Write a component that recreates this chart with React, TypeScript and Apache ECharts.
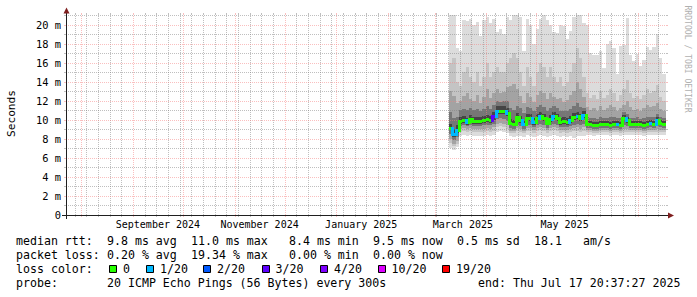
import React, { useEffect, useRef } from "react";
import * as echarts from "echarts";

// ---------------- data ----------------
const END_TIME = "2025-07-17T20:37:27Z";
const SPAN_DAYS = 360;
const SAMPLE_START = "2025-03-09T16:00:00Z";
const SAMPLE_STEP_DAYS = 2;
const Y_MAX = 21;

// median rtt (ms), one value per 2-day sample
const medianRtt = [
  9.1, 8.5, 8.9, 9.8, 9.9, 9.7, 10.0, 9.8, 9.8, 9.8,
  9.9, 10.0, 9.9, 10.3, 10.9, 10.9, 10.9, 10.7, 9.6, 9.5,
  10.2, 9.9, 9.5, 10.1, 10.1, 9.7, 10.1, 10.3, 10.1, 9.6,
  10.0, 10.3, 10.1, 9.7, 9.8, 9.7, 9.9, 10.2, 10.3, 10.1,
  10.4, 9.5, 9.5, 9.4, 9.4, 9.5, 9.5, 9.5, 9.4, 9.5,
  9.5, 9.4, 10.1, 9.9, 9.5, 9.5, 9.5, 9.5, 9.4, 9.5,
  9.6, 9.5, 9.9, 9.6, 9.5, 9.5,
];

// index into lossLabels / lossColors
const lossIndex = [
  0, 1, 1, 0, 0, 1, 0, 0, 0, 0,
  0, 0, 0, 3, 1, 0, 0, 1, 0, 0,
  0, 0, 1, 0, 0, 1, 0, 1, 0, 0,
  0, 1, 0, 0, 0, 0, 1, 0, 1, 0,
  1, 0, 0, 0, 0, 0, 0, 0, 0, 0,
  1, 0, 0, 1, 0, 0, 0, 0, 0, 0,
  1, 0, 1, 0, 0, 0,
];

// smoke bands, outermost (1) to innermost (5): low / high values in ms
const smokeHigh1 = [
  21, 21, 17.5, 17.2, 20.5, 20.4, 20.6, 20.0, 20.3, 18.8,
  20.5, 20.8, 20.2, 20.6, 19.2, 19.5, 19.0, 20.8, 20.5, 21,
  21, 20.8, 17.2, 20.6, 20.0, 18.0, 19.5, 20.6, 21, 20.5,
  20.0, 19.2, 19.1, 20.0, 19.8, 18.5, 19.3, 20.8, 21, 21,
  20.2, 20.0, 17.0, 16.8, 16.8, 17.2, 15.4, 18.0, 18.3, 17.5,
  14.8, 17.7, 17.8, 20.7, 16.8, 16.2, 16.9, 15.6, 16.3, 17.6,
  17.3, 17.6, 19.0, 16.5, 14.8, 14.6,
];
const smokeHigh2 = [
  16.0, 16.5, 14.0, 13.5, 15.0, 15.5, 14.5, 14.0, 15.0, 13.5,
  14.5, 16.0, 14.5, 15.0, 15.5, 15.0, 15.0, 16.0, 16.5, 17.0,
  16.5, 15.0, 13.5, 15.5, 14.5, 13.5, 15.0, 16.0, 15.5, 14.5,
  15.5, 14.5, 14.0, 14.5, 13.5, 14.0, 15.0, 16.0, 17.5, 16.5,
  14.5, 12.8, 12.3, 12.6, 12.2, 13.0, 12.3, 12.6, 13.2, 12.8,
  12.0, 12.6, 13.2, 14.2, 12.8, 12.3, 12.5, 12.2, 12.6, 13.2,
  12.8, 13.0, 13.6, 12.4, 12.0, 11.8,
];
const smokeHigh3 = [
  13.0, 12.5, 11.8, 12.0, 12.5, 12.8, 12.2, 12.0, 12.6, 11.8,
  12.4, 13.2, 12.3, 12.8, 13.2, 12.8, 12.9, 13.4, 13.5, 13.8,
  13.2, 12.5, 11.8, 12.8, 12.4, 11.9, 12.6, 13.0, 12.8, 12.2,
  12.8, 12.4, 12.2, 12.3, 11.9, 12.1, 12.6, 13.0, 14.0, 13.2,
  12.4, 11.3, 11.0, 11.2, 10.9, 11.4, 11.0, 11.2, 11.5, 11.3,
  10.9, 11.2, 11.6, 12.0, 11.3, 11.0, 11.1, 10.9, 11.2, 11.5,
  11.3, 11.4, 11.8, 11.1, 10.9, 10.8,
];
const smokeHigh4 = [
  10.8, 10.2, 10.3, 11.0, 11.1, 11.0, 11.2, 11.0, 11.1, 10.9,
  11.1, 11.4, 11.1, 11.6, 12.0, 11.9, 12.0, 12.0, 11.2, 11.0,
  11.4, 11.2, 10.7, 11.3, 11.2, 10.9, 11.3, 11.5, 11.3, 10.9,
  11.2, 11.4, 11.2, 10.9, 10.9, 10.9, 11.1, 11.4, 11.8, 11.3,
  11.2, 10.3, 10.2, 10.2, 10.1, 10.3, 10.2, 10.2, 10.3, 10.3,
  10.2, 10.2, 10.8, 10.6, 10.2, 10.2, 10.3, 10.1, 10.2, 10.3,
  10.3, 10.3, 10.6, 10.3, 10.2, 10.1,
];
const smokeHigh5 = [
  9.6, 9.0, 9.4, 10.3, 10.4, 10.2, 10.5, 10.3, 10.3, 10.3,
  10.4, 10.5, 10.4, 10.8, 11.4, 11.4, 11.4, 11.2, 10.1, 10.0,
  10.7, 10.4, 10.0, 10.6, 10.6, 10.2, 10.6, 10.8, 10.6, 10.1,
  10.5, 10.8, 10.6, 10.2, 10.3, 10.2, 10.4, 10.7, 10.8, 10.6,
  10.9, 9.9, 9.9, 9.8, 9.8, 9.9, 9.9, 9.9, 9.8, 9.9,
  9.9, 9.8, 10.5, 10.3, 9.9, 9.9, 9.9, 9.9, 9.8, 9.9,
  10.0, 9.9, 10.3, 10.0, 9.9, 9.9,
];
const smokeLow5 = [
  8.9, 8.2, 8.6, 9.6, 9.7, 9.5, 9.8, 9.6, 9.6, 9.6,
  9.7, 9.8, 9.7, 10.0, 10.6, 10.6, 10.6, 10.4, 9.4, 9.3,
  10.0, 9.7, 9.3, 9.9, 9.9, 9.5, 9.9, 10.1, 9.9, 9.4,
  9.8, 10.1, 9.9, 9.5, 9.6, 9.5, 9.7, 10.0, 10.1, 9.9,
  10.2, 9.3, 9.3, 9.2, 9.2, 9.3, 9.3, 9.3, 9.2, 9.3,
  9.3, 9.2, 9.9, 9.7, 9.3, 9.3, 9.3, 9.3, 9.2, 9.3,
  9.4, 9.3, 9.7, 9.4, 9.3, 9.3,
];
const smokeLow4 = [
  8.5, 7.9, 8.2, 9.3, 9.4, 9.3, 9.4, 9.3, 9.3, 9.3,
  9.4, 9.4, 9.4, 9.6, 10.1, 10.2, 10.1, 9.9, 9.1, 9.0,
  9.5, 9.3, 9.0, 9.4, 9.4, 9.2, 9.4, 9.6, 9.4, 9.1,
  9.4, 9.6, 9.4, 9.2, 9.2, 9.2, 9.3, 9.5, 9.6, 9.4,
  9.6, 9.1, 9.1, 9.0, 9.0, 9.1, 9.1, 9.1, 9.0, 9.1,
  9.1, 9.0, 9.4, 9.3, 9.1, 9.1, 9.1, 9.1, 9.0, 9.1,
  9.2, 9.1, 9.3, 9.2, 9.1, 9.1,
];
const smokeLow3 = [
  8.0, 7.5, 7.8, 9.0, 9.1, 9.0, 9.1, 9.0, 9.0, 9.0,
  9.0, 9.1, 9.0, 9.2, 9.6, 9.7, 9.6, 9.4, 8.8, 8.8,
  9.1, 9.0, 8.8, 9.1, 9.1, 8.9, 9.1, 9.2, 9.1, 8.9,
  9.1, 9.2, 9.1, 8.9, 8.9, 8.9, 9.0, 9.1, 9.2, 9.0,
  9.2, 8.9, 8.9, 8.8, 8.8, 8.9, 8.9, 8.9, 8.8, 8.9,
  8.9, 8.8, 9.0, 9.0, 8.9, 8.9, 8.9, 8.9, 8.8, 8.9,
  8.9, 8.9, 9.0, 8.9, 8.9, 8.9,
];
const smokeLow2 = [
  7.6, 7.2, 7.5, 8.7, 8.8, 8.7, 8.8, 8.7, 8.7, 8.7,
  8.7, 8.8, 8.7, 8.8, 9.2, 9.3, 9.2, 9.0, 8.6, 8.6,
  8.8, 8.7, 8.6, 8.8, 8.8, 8.6, 8.8, 8.9, 8.8, 8.6,
  8.8, 8.9, 8.8, 8.6, 8.7, 8.6, 8.7, 8.8, 8.8, 8.7,
  8.8, 8.7, 8.7, 8.6, 8.6, 8.7, 8.7, 8.7, 8.6, 8.7,
  8.7, 8.6, 8.7, 8.7, 8.7, 8.7, 8.7, 8.7, 8.6, 8.7,
  8.7, 8.7, 8.7, 8.7, 8.7, 8.7,
];
const smokeLow1 = [
  7.0, 6.8, 7.1, 8.3, 8.4, 8.3, 8.4, 8.3, 8.3, 8.3,
  8.3, 8.4, 8.3, 8.4, 8.7, 8.8, 8.7, 8.6, 8.3, 8.2,
  8.3, 8.3, 8.2, 8.4, 8.3, 8.2, 8.3, 8.4, 8.3, 8.2,
  8.3, 8.4, 8.3, 8.2, 8.3, 8.2, 8.3, 8.1, 8.3, 8.3,
  8.3, 8.4, 8.4, 8.3, 8.4, 8.4, 8.4, 8.4, 8.3, 8.4,
  8.4, 8.3, 8.4, 8.4, 8.4, 8.4, 8.4, 8.4, 8.3, 8.4,
  8.4, 8.4, 8.4, 8.4, 8.4, 8.4,
];

const lossLabels = ["0", "1/20", "2/20", "3/20", "4/20", "10/20", "19/20"];
const lossColors = ["#26ff00", "#00b8ff", "#0059ff", "#5e00ff", "#7e00ff", "#dd00ff", "#ff0000"];

const monthLabels = ["September 2024", "November 2024", "January 2025", "March 2025", "May 2025"];
const monthLabelDates = ["2024-09-16", "2024-11-16", "2025-01-16", "2025-03-18", "2025-05-18"];
const monthStartDates = [
  "2024-08-01", "2024-09-01", "2024-10-01", "2024-11-01", "2024-12-01", "2025-01-01",
  "2025-02-01", "2025-03-01", "2025-04-01", "2025-05-01", "2025-06-01", "2025-07-01",
];
const FIRST_WEEK = "2024-07-28";
const yTickValues = [0, 2, 4, 6, 8, 10, 12, 14, 16, 18, 20];

const statsRtt: [number, string][] = [
  [0, "median rtt:"], [13, "9.8 ms avg"], [25, "11.0 ms max"], [39, "8.4 ms min"],
  [51, "9.5 ms now"], [63, "0.5 ms sd"], [74, "18.1"], [81, "am/s"],
];
const statsLoss: [number, string][] = [
  [0, "packet loss:"], [13, "0.20 % avg"], [25, "19.34 % max"], [39, "0.00 % min"], [51, "0.00 % now"],
];
const probeLine: [number, string][] = [
  [0, "probe:"], [13, "20 ICMP Echo Pings (56 Bytes) every 300s"], [66, "end: Thu Jul 17 20:37:27 2025"],
];

// ---------------- styles / layout ----------------
const FONT = '"DejaVu Sans Mono", "Liberation Mono", monospace';
const SMOKE_COLORS = ["#dcdcdc", "#c4c4c4", "#a3a3a3", "#767676", "#454545"];
const GRID_COLOR = "rgba(128,128,128,0.5)";
const MGRID_COLOR = "rgba(245,128,128,0.5)";
const AXIS_COLOR = "#1f1f1f";
const ARROW_COLOR = "#7f1f1f";
const G_LEFT = 66, G_TOP = 15, G_W = 600, G_H = 200;
const LEG_X0 = 16, LEG_CW = 7;
const LEG_Y = [241, 255, 269, 283];
const LOSS_BOX_X = [109, 146, 203, 261.5, 320, 377.5, 442];

const DAY_MS = 86400000;

export default function App() {
  const ref = useRef<HTMLDivElement>(null);

  useEffect(() => {
    if (!ref.current) return;
    const chart = echarts.init(ref.current, null, { renderer: "svg" });

    const endMs = Date.parse(END_TIME);
    const startMs = endMs - SPAN_DAYS * DAY_MS;
    const stepMs = SAMPLE_STEP_DAYS * DAY_MS;
    const sample0 = Date.parse(SAMPLE_START);

    const lows = [smokeLow1, smokeLow2, smokeLow3, smokeLow4, smokeLow5];
    const highs = [smokeHigh1, smokeHigh2, smokeHigh3, smokeHigh4, smokeHigh5];

    const smokeData = medianRtt.map((_, k) => {
      const row: number[] = [sample0 + k * stepMs];
      for (let b = 0; b < 5; b++) row.push(lows[b][k], highs[b][k]);
      return row;
    });
    const medianData = medianRtt.map((m, k) => [
      sample0 + k * stepMs, m, lossIndex[k], k > 0 ? medianRtt[k - 1] : m,
    ]);

    const monthStarts = monthStartDates.map((d) => Date.parse(d));
    const weekly: number[][] = [];
    for (let t = Date.parse(FIRST_WEEK); t < endMs; t += 7 * DAY_MS) {
      if (!monthStarts.some((m) => Math.abs(m - t) < DAY_MS / 2)) weekly.push([t, 0]);
    }
    const monthly = monthStarts.map((t) => [t, 0]);
    const hMinor: number[][] = [];
    const hMajor: number[][] = [];
    for (let v = 1; v <= Y_MAX; v++) {
      if (v % 2 === 0) hMajor.push([startMs, v]);
      else hMinor.push([startMs, v]);
    }
    const labelTimes = monthLabelDates.map((d) => Date.parse(d));

    const vLine = (color: string) => (_p: any, api: any) => {
      const t = api.value(0);
      const p0 = api.coord([t, 0]);
      const p1 = api.coord([t, Y_MAX]);
      const x = Math.round(p0[0]) + 0.5;
      const y0 = Math.round(p0[1]);
      const y1 = Math.round(p1[1]);
      return {
        type: "group",
        children: [
          { type: "line", shape: { x1: x, y1: y0, x2: x, y2: y1 }, style: { stroke: color, lineWidth: 1, lineDash: [1, 1] } },
          { type: "line", shape: { x1: x, y1: y0, x2: x, y2: y0 + 2 }, style: { stroke: color, lineWidth: 1 } },
          { type: "line", shape: { x1: x, y1: y1 - 2, x2: x, y2: y1 }, style: { stroke: color, lineWidth: 1 } },
        ],
      };
    };
    const hLine = (color: string) => (_p: any, api: any) => {
      const v = api.value(1);
      const p0 = api.coord([startMs, v]);
      const p1 = api.coord([endMs, v]);
      const y = Math.round(p0[1]) + 0.5;
      const x0 = Math.round(p0[0]);
      const x1 = Math.round(p1[0]);
      return {
        type: "group",
        children: [
          { type: "line", shape: { x1: x0, y1: y, x2: x1, y2: y }, style: { stroke: color, lineWidth: 1, lineDash: [1, 1] } },
          { type: "line", shape: { x1: x0 - 2, y1: y, x2: x0, y2: y }, style: { stroke: color, lineWidth: 1 } },
          { type: "line", shape: { x1: x1, y1: y, x2: x1 + 2, y2: y }, style: { stroke: color, lineWidth: 1 } },
        ],
      };
    };

    const legendTexts: any[] = [];
    const addTokens = (tokens: [number, string][], line: number) => {
      tokens.forEach(([col, s]) => {
        legendTexts.push({
          type: "text",
          z: 20,
          style: {
            text: s, x: LEG_X0 + col * LEG_CW, y: LEG_Y[line],
            font: `11.6px ${FONT}`, fill: "#000",
            align: "left", verticalAlign: "middle", textAlign: "left", textVerticalAlign: "middle",
          },
        });
      });
    };
    addTokens(statsRtt, 0);
    addTokens(statsLoss, 1);
    addTokens([[0, "loss color:"]], 2);
    addTokens(probeLine, 3);
    lossLabels.forEach((lab, i) => {
      const bx = Math.round(LOSS_BOX_X[i]) + 0.5;
      legendTexts.push({
        type: "rect", z: 20,
        shape: { x: bx, y: 265.5, width: 7, height: 7 },
        style: { fill: lossColors[i], stroke: "#000", lineWidth: 1 },
      });
      legendTexts.push({
        type: "text", z: 20,
        style: {
          text: lab, x: LOSS_BOX_X[i] + 14, y: LEG_Y[2],
          font: `11.6px ${FONT}`, fill: "#000",
          align: "left", verticalAlign: "middle", textAlign: "left", textVerticalAlign: "middle",
        },
      });
    });

    const xAxisY = G_TOP + G_H + 0.5;
    const yAxisX = G_LEFT + 0.5;
    const xRight = G_LEFT + G_W;

    const option: any = {
      animation: false,
      backgroundColor: "#ffffff",
      textStyle: { fontFamily: FONT },
      grid: { left: G_LEFT, top: G_TOP, width: G_W, height: G_H, containLabel: false, outerBoundsMode: "none" },
      xAxis: {
        type: "value",
        min: startMs,
        max: endMs,
        axisLine: { show: false },
        axisTick: { show: false },
        splitLine: { show: false },
        axisLabel: {
          show: true,
          customValues: labelTimes,
          formatter: (v: number) => {
            const i = labelTimes.findIndex((t) => Math.abs(t - v) < 1000);
            return i >= 0 ? monthLabels[i] : "";
          },
          fontFamily: FONT,
          fontSize: 10,
          color: "#000",
          margin: 4,
        },
      },
      yAxis: {
        type: "value",
        min: 0,
        max: Y_MAX,
        axisLine: { show: false },
        axisTick: { show: false },
        splitLine: { show: false },
        axisLabel: {
          customValues: yTickValues,
          formatter: (v: number) => (v === 0 ? "0" : `${v} m`),
          fontFamily: FONT,
          fontSize: 10.4,
          color: "#000",
          margin: 5,
        },
      },
      series: [
        {
          type: "custom",
          name: "smoke",
          coordinateSystem: "cartesian2d",
          clip: true,
          silent: true,
          z: 2,
          encode: { x: 0, y: 2 },
          data: smokeData,
          renderItem: (_p: any, api: any) => {
            const t = api.value(0);
            const xa = Math.round(api.coord([t, 0])[0]);
            const xb = Math.round(api.coord([t + stepMs, 0])[0]);
            const children: any[] = [];
            for (let b = 0; b < 5; b++) {
              const lo = api.value(1 + 2 * b);
              const hi = Math.min(api.value(2 + 2 * b), Y_MAX);
              const yTop = Math.round(api.coord([t, hi])[1]);
              const yBot = Math.round(api.coord([t, lo])[1]);
              children.push({
                type: "rect",
                shape: { x: xa, y: yTop, width: xb - xa, height: Math.max(0, yBot - yTop) },
                style: { fill: SMOKE_COLORS[b] },
              });
            }
            return { type: "group", children };
          },
        },
        { type: "custom", name: "weekGrid", silent: true, clip: false, z: 3, encode: { x: 0, y: 1 }, data: weekly, renderItem: vLine(GRID_COLOR) },
        { type: "custom", name: "valueGridMinor", silent: true, clip: false, z: 3, encode: { x: 0, y: 1 }, data: hMinor, renderItem: hLine(GRID_COLOR) },
        { type: "custom", name: "monthGrid", silent: true, clip: false, z: 3, encode: { x: 0, y: 1 }, data: monthly, renderItem: vLine(MGRID_COLOR) },
        { type: "custom", name: "valueGridMajor", silent: true, clip: false, z: 3, encode: { x: 0, y: 1 }, data: hMajor, renderItem: hLine(MGRID_COLOR) },
        {
          type: "custom",
          name: "median",
          coordinateSystem: "cartesian2d",
          clip: true,
          silent: true,
          z: 4,
          encode: { x: 0, y: 1 },
          data: medianData,
          renderItem: (_p: any, api: any) => {
            const t = api.value(0);
            const m = api.value(1);
            const li = api.value(2);
            const prev = api.value(3);
            const color = lossColors[li] || lossColors[0];
            const xa = Math.round(api.coord([t, 0])[0]);
            const xb = Math.round(api.coord([t + stepMs, 0])[0]);
            const y = api.coord([t, m])[1];
            const yp = api.coord([t, prev])[1];
            const children: any[] = [
              { type: "rect", shape: { x: xa, y: Math.round(y - 1.5), width: xb - xa, height: 3 }, style: { fill: color } },
            ];
            if (Math.abs(y - yp) > 1) {
              const top = Math.round(Math.min(y, yp) - 1.5);
              const bot = Math.round(Math.max(y, yp) + 1.5);
              children.push({ type: "rect", shape: { x: xa - 1, y: top, width: 3, height: bot - top }, style: { fill: color } });
            }
            return { type: "group", children };
          },
        },
      ],
      graphic: [
        { type: "line", z: 10, shape: { x1: G_LEFT - 4, y1: xAxisY, x2: xRight + 4, y2: xAxisY }, style: { stroke: AXIS_COLOR, lineWidth: 1 } },
        { type: "line", z: 10, shape: { x1: yAxisX, y1: G_TOP + G_H + 4, x2: yAxisX, y2: G_TOP - 4 }, style: { stroke: AXIS_COLOR, lineWidth: 1 } },
        { type: "polygon", z: 11, shape: { points: [[xRight + 2, xAxisY - 3], [xRight + 2, xAxisY + 3], [xRight + 8, xAxisY]] }, style: { fill: ARROW_COLOR } },
        { type: "polygon", z: 11, shape: { points: [[yAxisX - 3, G_TOP - 1.5], [yAxisX + 3, G_TOP - 1.5], [yAxisX, G_TOP - 7.5]] }, style: { fill: ARROW_COLOR } },
        {
          type: "text", z: 20, x: 11, y: 113.5, rotation: Math.PI / 2,
          style: {
            text: "Seconds", x: 0, y: 0, font: `11.2px ${FONT}`, fill: "#000",
            align: "center", verticalAlign: "middle", textAlign: "center", textVerticalAlign: "middle",
          },
        },
        {
          type: "text", z: 20, x: 688, y: 59, rotation: -Math.PI / 2,
          style: {
            text: "RRDTOOL / TOBI OETIKER", x: 0, y: 0, font: `8.1px ${FONT}`, fill: "#b0b0b0",
            align: "center", verticalAlign: "middle", textAlign: "center", textVerticalAlign: "middle",
          },
        },
        ...legendTexts,
      ],
    };

    chart.setOption(option);
    return () => chart.dispose();
  }, []);

  return (
    <div
      ref={ref}
      style={{ position: "absolute", left: 0, top: 0, width: 697, height: 297, background: "#ffffff" }}
    />
  );
}
